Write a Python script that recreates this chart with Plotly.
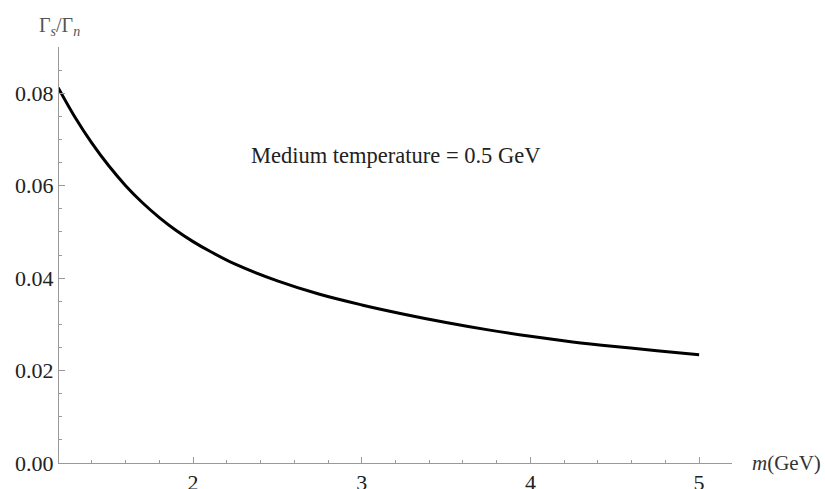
import plotly.graph_objects as go

# Data
m_values = [1.2, 1.3, 1.4, 1.5, 1.6, 1.7, 1.8, 1.9, 2.0, 2.1, 2.25, 2.5, 2.75, 3.0,
            3.25, 3.5, 3.75, 4.0, 4.25, 4.5, 4.75, 5.0]
ratio_values = [0.0812, 0.0748, 0.0692, 0.0643, 0.0600, 0.0563, 0.0531, 0.0503, 0.0479,
                0.0458, 0.0430, 0.0394, 0.0365, 0.0342, 0.0322, 0.0304, 0.0288, 0.0274,
                0.0262, 0.0252, 0.0243, 0.0234]
x_ticks = [2, 3, 4, 5]
y_ticks = [0.00, 0.02, 0.04, 0.06, 0.08]
y_tick_labels = ["0.00", "0.02", "0.04", "0.06", "0.08"]

SERIF = "'Liberation Serif', 'Times New Roman', Times, 'DejaVu Serif', serif"
AXIS_GRAY = "#9a9a9a"
TEXT = "#222222"

fig = go.Figure()
fig.add_trace(go.Scatter(
    x=m_values, y=ratio_values, mode="lines",
    line=dict(color="black", width=3, shape="spline", smoothing=1.0),
    showlegend=False, hoverinfo="skip",
))

fig.update_layout(
    width=825, height=489,
    margin=dict(l=59, r=93, t=47, b=26),
    paper_bgcolor="white", plot_bgcolor="white",
    font=dict(family=SERIF, size=22, color=TEXT),
    xaxis=dict(
        range=[1.205, 5.195], showgrid=False, zeroline=False, automargin=False,
        showline=True, linecolor=AXIS_GRAY, linewidth=1,
        tickmode="array", tickvals=x_ticks, ticktext=[str(v) for v in x_ticks],
        ticks="inside", ticklen=6, tickcolor=AXIS_GRAY, tickwidth=1,
        minor=dict(dtick=0.2, tick0=0, ticks="inside", ticklen=3, tickcolor=AXIS_GRAY, showgrid=False),
        tickfont=dict(family=SERIF, size=22, color=TEXT),
    ),
    yaxis=dict(
        range=[0, 0.09], showgrid=False, zeroline=False, automargin=False,
        showline=True, linecolor=AXIS_GRAY, linewidth=1,
        tickmode="array", tickvals=y_ticks, ticktext=y_tick_labels,
        ticks="inside", ticklen=6, tickcolor=AXIS_GRAY, tickwidth=1,
        minor=dict(dtick=0.005, tick0=0, ticks="inside", ticklen=3, tickcolor=AXIS_GRAY, showgrid=False),
        tickfont=dict(family=SERIF, size=22, color=TEXT),
    ),
    annotations=[
        dict(text="Medium temperature = 0.5 GeV", xref="paper", yref="paper",
             x=0.5, y=0.738, xanchor="center", yanchor="middle", showarrow=False,
             font=dict(family=SERIF, size=22.5, color=TEXT)),
        dict(text="<i>m</i>(GeV)", xref="paper", yref="paper",
             x=1.0, y=0.0, xanchor="left", yanchor="middle", xshift=18, showarrow=False,
             font=dict(family=SERIF, size=21, color="#333333")),
        dict(text="Γ<sub><i>s</i></sub>/Γ<sub><i>n</i></sub>", xref="paper", yref="paper",
             x=0.0, y=1.0, xanchor="center", yanchor="bottom", yshift=6, showarrow=False,
             font=dict(family=SERIF, size=20, color="#555555")),
    ],
)

fig.write_html("out.html")
